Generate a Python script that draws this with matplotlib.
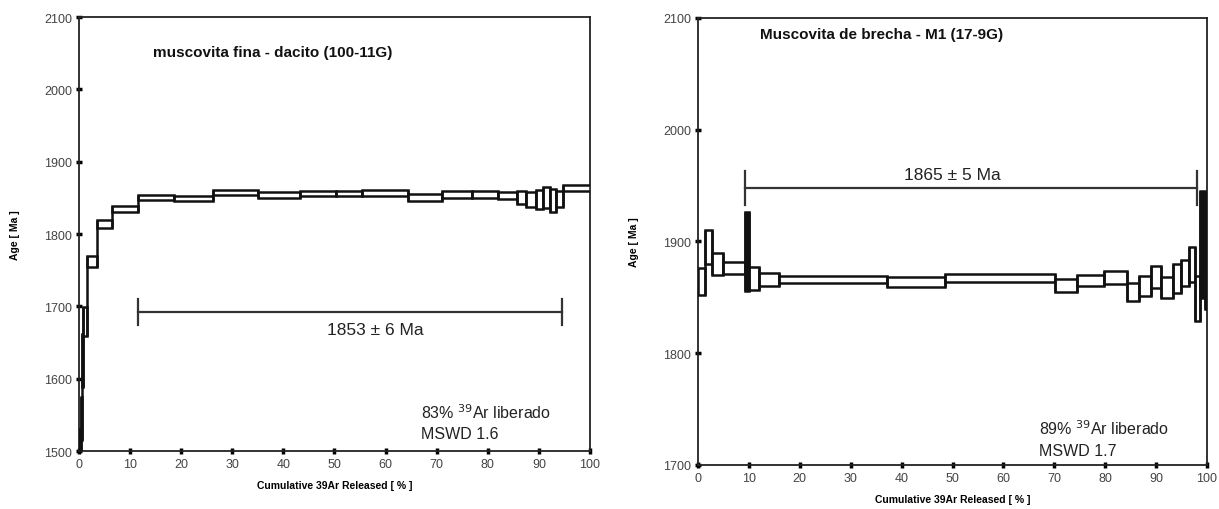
import matplotlib
matplotlib.use("Agg")
import matplotlib.pyplot as plt

plt.rcParams['font.family'] = ['Liberation Sans', 'DejaVu Sans']

# ---- Left panel data: muscovita fina - dacito (100-11G)
edges_L = [0, 0.3, 0.5, 0.85, 1.6, 3.6, 6.4, 11.5, 18.6, 26.3, 35.0, 43.2, 50.3,
           55.3, 64.3, 71.0, 77.0, 81.9, 85.7, 87.4, 89.4, 90.9, 92.1, 93.3, 94.7, 100]
ages_L = [1515, 1545, 1625, 1679, 1762, 1814, 1835, 1850, 1848.5, 1857, 1854, 1856,
          1856, 1857, 1850.5, 1854.5, 1854.5, 1853, 1851, 1848, 1848, 1850.5, 1846.5,
          1848.5, 1863.5]
errs_L = [15, 30, 37, 20, 8, 6, 4, 3.5, 3.5, 3.5, 4, 4, 4, 4, 4.5, 4.5, 4.5, 5, 9,
          10, 13, 14.5, 15.5, 10.5, 4.5]
plateau_L = (11.5, 94.5, 1692)
plateau_txt_L = "1853 ± 6 Ma"
title_L = "muscovita fina - dacito (100-11G)"
ar_L = "83%"
mswd_L = "MSWD 1.6"
yticks_L = [1500, 1600, 1700, 1800, 1900, 2000, 2100]

# ---- Right panel data: Muscovita de brecha - M1 (17-9G)
edges_R = [0, 1.4, 2.8, 5.0, 9.2, 10.1, 11.9, 16.0, 37.2, 48.5, 70.1, 74.4, 79.8,
           84.2, 86.7, 89.0, 91.0, 93.3, 94.9, 96.5, 97.7, 98.7, 99.5, 100]
ages_R = [1864, 1895, 1880, 1876, 1891, 1867, 1866, 1866, 1864, 1867.5, 1860.5, 1865,
          1868, 1855, 1860, 1868, 1858.5, 1867, 1871.5, 1879.5, 1849, 1897, 1857]
errs_R = [12, 15, 10, 5.5, 35, 10, 6, 3, 4.5, 3.5, 6, 5, 6, 8, 9, 10, 9.5, 13, 11.5,
          15.5, 20, 48, 17]
plateau_R = (9.2, 98.0, 1948)
plateau_txt_R = "1865 ± 5 Ma"
title_R = "Muscovita de brecha - M1 (17-9G)"
ar_R = "89%"
mswd_R = "MSWD 1.7"
yticks_R = [1700, 1800, 1900, 2000, 2100]

xticks = [0, 10, 20, 30, 40, 50, 60, 70, 80, 90, 100]

fig = plt.figure(figsize=(12.19, 5.10), dpi=100)
axL = fig.add_axes([0.0648, 0.1137, 0.4192, 0.851])
axR = fig.add_axes([0.5726, 0.0863, 0.4176, 0.8765])

EDGE = '#111111'


def draw(ax, edges, ages, errs, plateau, ptxt, ptxt_x, title, title_x, ar, mswd,
         yticks, cap, ptxt_y, title_y, ar_y, mswd_y, ylab_x):
    lefts = edges[:-1]
    widths = [b - a for a, b in zip(edges[:-1], edges[1:])]
    bottoms = [a - e for a, e in zip(ages, errs)]
    tops = [a + e for a, e in zip(ages, errs)]
    heights = [2 * e for e in errs]
    faces = [EDGE if (w < 1.0 and e >= 30) else 'white'
             for w, e in zip(widths, errs)]
    ax.bar(lefts, heights, width=widths, bottom=bottoms, align='edge',
           color=faces, edgecolor=EDGE, linewidth=1.8, zorder=3)
    # vertical connectors between consecutive steps
    for i in range(1, len(ages)):
        lo = min(bottoms[i - 1], bottoms[i])
        hi = max(tops[i - 1], tops[i])
        ax.vlines(edges[i], lo, hi, color=EDGE, lw=1.8, zorder=4)
    x0, x1, py = plateau
    ax.plot([x0, x1], [py, py], color='#333333', lw=1.6, zorder=2)
    ax.plot([x0, x0], [py - cap, py + cap], color='#333333', lw=1.6, zorder=2)
    ax.plot([x1, x1], [py - cap, py + cap], color='#333333', lw=1.6, zorder=2)
    ax.text(ptxt_x, ptxt_y, ptxt, ha='center', va='center',
            fontsize=12.5, color='#222222')
    ax.text(title_x, title_y, title, ha='center',
            va='center', fontsize=11, fontweight='bold', color='#111111')
    ax.text(67, ar_y, ar + " $^{39}$Ar liberado", ha='left', va='center',
            fontsize=11.5, color='#222222')
    ax.text(67, mswd_y, mswd, ha='left', va='center', fontsize=11.5,
            color='#222222')
    ax.set_xlim(0, 100)
    ax.set_ylim(yticks[0], yticks[-1])
    ax.set_xticks(xticks)
    ax.set_yticks(yticks)
    ax.tick_params(direction='inout', length=4, width=2.5, labelsize=9,
                   labelcolor='#444444', pad=3)
    for s in ax.spines.values():
        s.set_linewidth(1.3)
        s.set_color('#222222')
    ax.set_xlabel("Cumulative 39Ar Released [ % ]", fontsize=7.5,
                  fontweight='bold', labelpad=7)
    ax.set_ylabel("Age [ Ma ]", fontsize=7.5, fontweight='bold')
    ax.yaxis.set_label_coords(ylab_x, 0.5)


draw(axL, edges_L, ages_L, errs_L, plateau_L, plateau_txt_L, 58, title_L, 38,
     ar_L, mswd_L, yticks_L, cap=18, ptxt_y=1668, title_y=2052, ar_y=1555,
     mswd_y=1524, ylab_x=-0.115)
draw(axR, edges_R, ages_R, errs_R, plateau_R, plateau_txt_R, 50, title_R, 36,
     ar_R, mswd_R, yticks_R, cap=15, ptxt_y=1960, title_y=2086, ar_y=1733,
     mswd_y=1713, ylab_x=-0.115)

fig.savefig("out.png", dpi=100)
